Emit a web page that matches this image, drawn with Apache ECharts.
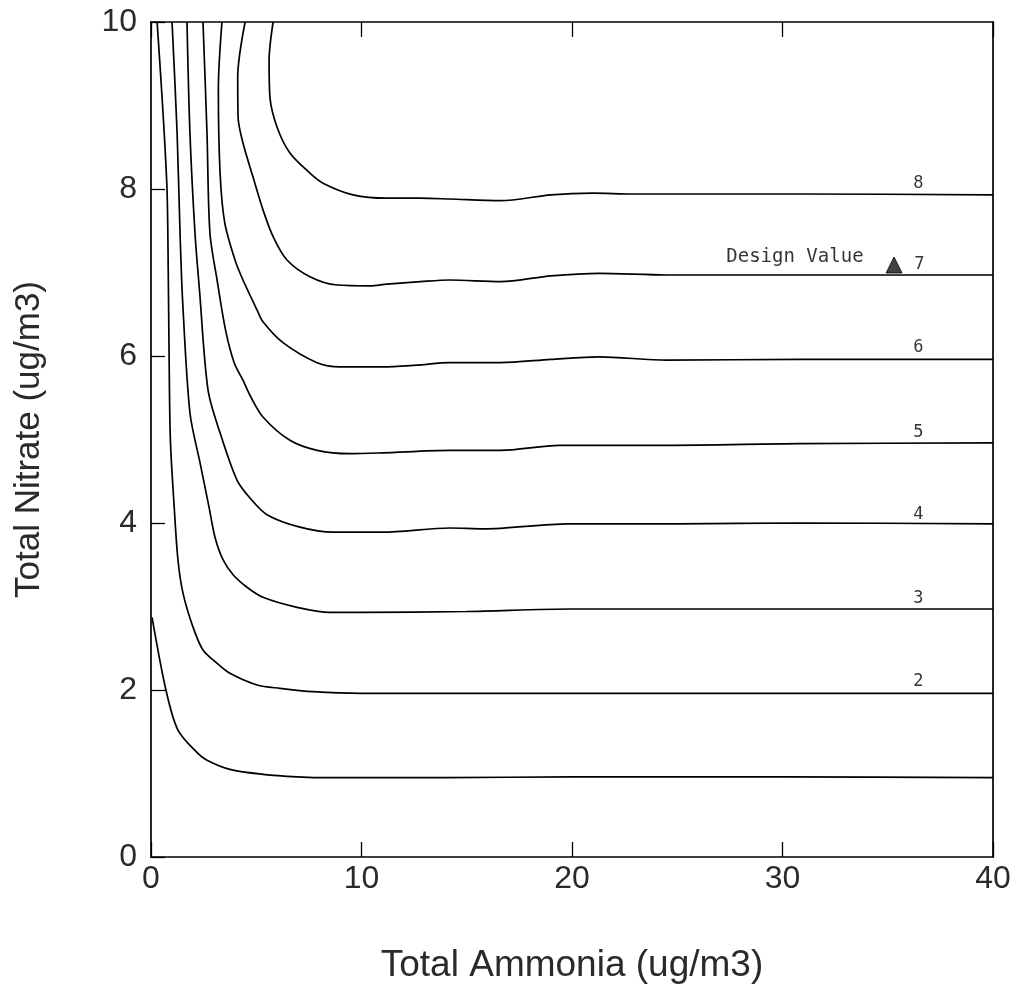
<!DOCTYPE html>
<html>
<head>
<meta charset="utf-8">
<script src="https://cdn.jsdelivr.net/npm/echarts@6/dist/echarts.min.js"></script>
<style>html,body{margin:0;padding:0;background:#fff}#c{width:1022px;height:994px}</style>
</head>
<body>
<div id="c"></div>
<script>
// Contour levels and their traced points [Total Ammonia, Total Nitrate]
const levels = [1, 2, 3, 4, 5, 6, 7, 8];
const contour1 = [[0.05,2.87],[0.71,2.0],[1.28,1.52],[2.19,1.25],[2.66,1.16],[3.75,1.05],[5.32,0.99],[6.94,0.96],[8.5,0.95],[14,0.95],[20,0.96],[30,0.96],[40,0.95]];
const contour2 = [[0.29,10],[0.55,9.0],[0.76,8.0],[0.82,7.0],[0.86,6.0],[0.92,5.0],[1.1,4.2],[1.28,3.56],[1.52,3.16],[2.0,2.75],[2.47,2.48],[3.14,2.32],[3.75,2.2],[5.04,2.06],[6.13,2.02],[7.7,1.98],[10,1.96],[20,1.96],[30,1.96],[40,1.96]];
const contour3 = [[1.0,10],[1.24,8.67],[1.38,7.47],[1.5,6.67],[1.85,5.32],[2.33,4.72],[2.75,4.2],[3.05,3.82],[3.42,3.56],[3.9,3.38],[4.56,3.23],[5.32,3.11],[6.94,2.99],[8.5,2.93],[10,2.93],[15,2.94],[20,2.97],[30,2.97],[40,2.97]];
const contour4 = [[1.71,10],[1.85,8.67],[2.09,7.47],[2.3,6.8],[2.71,5.59],[3.28,5.08],[4.09,4.51],[4.7,4.3],[5.51,4.1],[7.08,3.95],[8.65,3.89],[11,3.89],[14.2,3.94],[15.8,3.93],[19.8,3.99],[25,3.99],[30.8,4.0],[40,3.99]];
const contour5 = [[2.47,10],[2.66,8.67],[2.8,7.47],[3.14,6.91],[3.55,6.3],[3.95,5.92],[4.37,5.71],[4.7,5.53],[5.32,5.27],[6.6,4.99],[7.89,4.87],[9.45,4.83],[11,4.84],[14.2,4.87],[16.6,4.87],[19.4,4.93],[24.5,4.93],[30.8,4.95],[40,4.96]];
const contour6 = [[3.37,10],[3.2,9.2],[3.28,8.2],[3.5,7.6],[3.99,7.15],[4.37,6.91],[5.04,6.55],[5.32,6.41],[6.27,6.16],[7.89,5.92],[8.98,5.87],[11,5.87],[12.6,5.89],[14.2,5.92],[16.6,5.92],[19,5.96],[21.3,5.99],[24.5,5.95],[30.8,5.96],[40,5.96]];
const contour7 = [[4.47,10],[4.12,9.34],[4.14,8.85],[4.37,8.55],[4.85,8.14],[5.32,7.75],[5.8,7.43],[6.46,7.15],[7.55,6.95],[8.84,6.85],[10.4,6.84],[11.2,6.86],[12.8,6.89],[14.2,6.91],[16.6,6.89],[19.0,6.96],[21.3,6.99],[24.5,6.97],[30.8,6.97],[40,6.97]];
const contour8 = [[5.8,10],[5.61,9.54],[5.65,9.1],[5.99,8.74],[6.6,8.43],[7.55,8.19],[8.17,8.07],[9.6,7.93],[11.2,7.89],[12.8,7.89],[14.2,7.88],[16.6,7.86],[19,7.93],[21,7.95],[22.9,7.94],[30.8,7.94],[40,7.93]];
const contours = [contour1, contour2, contour3, contour4, contour5, contour6, contour7, contour8];
// contour labels (level, position)
const labelLevels = [2, 3, 4, 5, 6, 7, 8];
const labelPoints = [[36.45,2.1],[36.45,3.1],[36.45,4.1],[36.45,5.08],[36.45,6.1],[36.5,7.09],[36.45,8.06]];
const designValue = [[35.3, 7.09]];
const xTicks = [0, 10, 20, 30, 40];
const yTicks = [0, 2, 4, 6, 8, 10];

const chart = echarts.init(document.getElementById('c'));
const tickFont = {fontFamily: 'Liberation Sans, Arial, sans-serif', fontSize: 32, color: '#2a2a2a'};
const series = contours.map((c, i) => ({
  type: 'line', name: 'level ' + levels[i], data: c, showSymbol: false, symbol: 'none',
  smooth: 0.3,
  lineStyle: {color: '#000', width: 1.7}, xAxisIndex: 0, yAxisIndex: 0, silent: true
}));
series.push({
  type: 'scatter', data: labelPoints.map((p, i) => ({value: p, name: String(labelLevels[i])})),
  symbolSize: 0, silent: true,
  label: {show: true, position: 'inside', formatter: p => p.name,
    fontFamily: 'DejaVu Sans Mono, monospace', fontSize: 17, color: '#000'}
});
series.push({
  type: 'scatter', data: designValue, symbol: 'triangle', symbolSize: 16, silent: true,
  itemStyle: {color: '#111', borderColor: '#000', borderWidth: 1},
  label: {show: true, position: 'left', distance: 22, formatter: 'Design Value',
    fontFamily: 'DejaVu Sans Mono, monospace', fontSize: 19, color: '#000', offset: [0, -8]}
});
chart.setOption({
  animation: false,
  backgroundColor: '#fff',
  grid: {left: 151, right: 29, top: 22, bottom: 137},
  xAxis: [{
    type: 'value', min: xTicks[0], max: xTicks[xTicks.length - 1], interval: 10,
    name: 'Total Ammonia (ug/m3)', nameLocation: 'middle', nameGap: 90,
    nameTextStyle: {fontFamily: 'Liberation Sans, Arial, sans-serif', fontSize: 37, color: '#2a2a2a'},
    axisLine: {show: true, onZero: false, lineStyle: {color: '#000', width: 1.7}},
    axisTick: {show: true, inside: true, length: 15, lineStyle: {color: '#000', width: 1.3}},
    axisLabel: Object.assign({margin: 6}, tickFont),
    splitLine: {show: false}
  }, {
    type: 'value', position: 'top', min: 0, max: 40, interval: 10,
    axisLine: {show: true, onZero: false, lineStyle: {color: '#000', width: 1.7}},
    axisTick: {show: true, inside: true, length: 15, lineStyle: {color: '#000', width: 1.3}},
    axisLabel: {show: false}, splitLine: {show: false}
  }],
  yAxis: [{
    type: 'value', min: yTicks[0], max: yTicks[yTicks.length - 1], interval: 2,
    name: 'Total Nitrate (ug/m3)', nameLocation: 'middle', nameGap: 104,
    nameTextStyle: {fontFamily: 'Liberation Sans, Arial, sans-serif', fontSize: 35, color: '#2a2a2a'},
    axisLine: {show: true, onZero: false, lineStyle: {color: '#000', width: 1.7}},
    axisTick: {show: true, inside: true, length: 14, lineStyle: {color: '#000', width: 1.3}},
    axisLabel: Object.assign({margin: 14}, tickFont),
    splitLine: {show: false}
  }, {
    type: 'value', position: 'right', min: 0, max: 10, interval: 2,
    axisLine: {show: true, onZero: false, lineStyle: {color: '#000', width: 1.7}},
    axisTick: {show: false}, axisLabel: {show: false}, splitLine: {show: false}
  }],
  series: series
});
</script>
</body>
</html>
